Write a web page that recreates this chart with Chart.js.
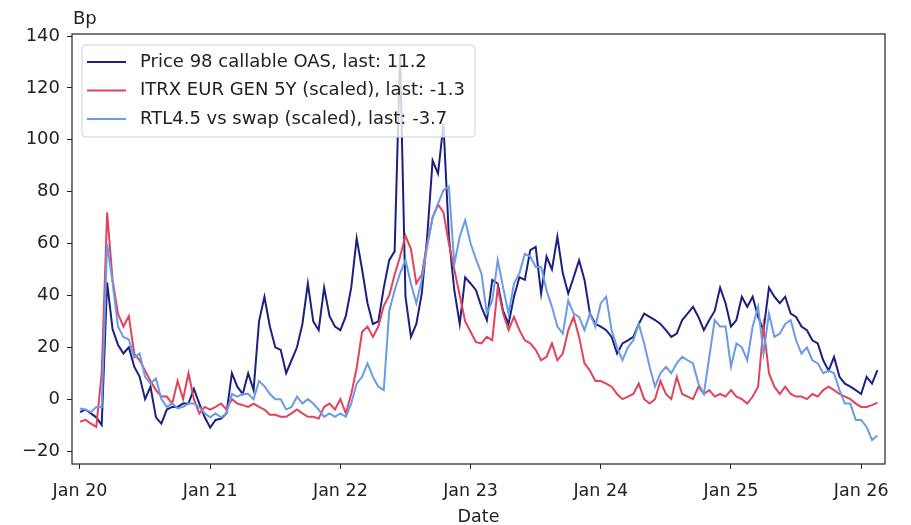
<!DOCTYPE html>
<html lang="en">
<head>
    <meta charset="UTF-8">
    <title>Price 98 callable OAS</title>
    <script src="https://cdn.jsdelivr.net/npm/chart.js"></script>
    <style>
        body {
            margin: 0;
            padding: 0;
            background: #fff;
        }
        .chart-container {
            width: 911px;
            height: 525px;
            position: relative;
        }
    </style>
</head>
<body>
    <div class="chart-container">
        <canvas id="oasChart"></canvas>
    </div>

    <script>
        // half-monthly readings starting Jan 2020
        const startYear = 2020;
        const pointsPerYear = 24;

        const oas = [
            -5, -4, -5.5, -7, -10, 45, 27, 21, 17.6, 20, 12.5, 8.6, 0, 4.8, -7, -9.4, -4, -3, -3, -1.7, -1.7, 4, -1.7, -7,
            -11, -8, -7.5, -5.5, 10, 4.8, 2, 10, 3.5, 30, 39.5, 28, 20, 19, 10, 15, 20, 29, 44.6, 30, 26.6, 43, 32, 28,
            26.6, 32, 43, 62, 50, 37, 29, 30, 43, 53.6, 57, 133, 39.5, 24, 29, 40.7, 62.6, 92, 87, 106, 62.6, 42, 29, 47,
            44.6, 42, 35.6, 30.5, 46, 44.6, 34, 29, 39.5, 47, 46, 57.5, 58.7, 40.7, 55, 50, 62.6, 48.5, 40.7, 47, 53.6, 46, 33, 29,
            28, 26.6, 24, 17.6, 21.5, 22.7, 24, 29, 33, 31.7, 30.5, 29, 26.6, 24, 25.3, 30.5, 33, 35.6, 31.7, 26.6, 30.5, 34, 43, 37,
            28, 30.5, 39.5, 35.6, 39.5, 31.7, 26.6, 43, 39.5, 37, 39.5, 33, 31.7, 28, 26.6, 22.7, 21.5, 15, 11, 16.3, 8.6, 6, 4.8, 3.5,
            2, 8.6, 6, 11.2
        ];
        const itrx = [
            -8.7, -8, -9.4, -10.7, 10, 72, 46, 33, 28, 32, 17.6, 15, 11, 7, 3.5, 1, 1, -1.7, 7, 0, 10, 0, -5.5, -3,
            -4, -3, -1.7, -4, 0, -1.7, -2.3, -3, -1.7, -3, -4, -6, -6, -6.8, -6.8, -5.5, -4, -5.5, -6.8, -6.8, -7.5, -3, -1.7, -4,
            0, -5.5, 2, 12, 26, 28, 24, 28, 36, 40, 48, 55, 63, 58, 44.6, 48, 60, 70, 75, 72, 60, 50, 40, 30,
            26, 22, 21.5, 24, 22.7, 43, 33, 26.6, 31.7, 26.6, 22.7, 21.5, 19, 15, 16.3, 21.5, 15, 17.6, 26.6, 31.7, 24, 13.8, 11, 7,
            7, 6, 4.8, 2, 0, 1, 2, 6, 0, -1.7, 0, 7, 2, 0, 8.6, 2, 1, 0, 4.8, 2, 3.5, 1, 2, 1,
            3.5, 1, 0, -1.7, 1, 4.8, 28, 10, 4.8, 2, 4.8, 2, 1, 1, 0, 2, 1, 3.5, 4.8, 3.5, 2, 1, 0, -1.7,
            -3, -3, -2.3, -1.3
        ];
        const rtl = [
            -3.6, -4, -5, -3, -3, 60, 45, 28, 24, 23, 16, 17.6, 8.6, 6, 8, 0, -3, -1.7, -3.6, -3, -1.7, -1.7, -3, -5.5,
            -7, -5.5, -7, -5.5, 2, 1, 2, 2, 0, 7, 5, 2, 0, 0, -4, -3, 1, -1.7, 0, -1.7, -4, -6.8, -5.5, -6.8,
            -5.5, -6.8, -1.7, 6, 8.6, 13.8, 8.6, 4.8, 3.5, 34, 42, 48.5, 53.6, 44.6, 37, 46, 58.7, 70, 75.4, 80.6, 82, 52, 62.6, 69,
            60, 54, 48.5, 33, 38, 53.6, 43, 33, 44.6, 48.5, 56, 55, 51, 51, 42, 35.6, 28, 25.3, 38, 33, 31.7, 26.6, 33, 28,
            37, 39.5, 26.6, 20, 15, 20, 22.7, 29, 21.5, 12.5, 4.8, 10, 12.5, 10, 13.8, 16.3, 15, 13.8, 6, 2, 16.3, 30.5, 28, 28,
            12.5, 21.5, 20, 15, 28, 35.6, 17.6, 33, 24, 25.3, 29, 30.5, 22.7, 17.6, 20, 15, 13.8, 10, 11, 10, 3.5, -1.7, -1.7, -8,
            -8, -10.7, -15.8, -14
        ];

        const seriesLabels = [
            'Price 98 callable OAS, last: 11.2',
            'ITRX EUR GEN 5Y (scaled), last: -1.3',
            'RTL4.5 vs swap (scaled), last: -3.7'
        ];
        const seriesColors = ['#1c207f', '#e3435a', '#6a9be6'];
        const yearTicks = [2020, 2021, 2022, 2023, 2024, 2025, 2026];
        const valueTicks = [-20, 0, 20, 40, 60, 80, 100, 120, 140];

        const FONT = "'DejaVu Sans', sans-serif";
        const TEXT = '#222';

        const toPoints = arr => arr.map((v, i) => ({ x: startYear + i / pointsPerYear, y: v }));

        // axes frame, "Bp" label and the legend inside the plot
        const framePlugin = {
            id: 'frame',
            afterDatasetsDraw(chart) {
                const { ctx, chartArea: a } = chart;
                ctx.save();
                ctx.strokeStyle = TEXT;
                ctx.lineWidth = 1.2;
                ctx.strokeRect(a.left, a.top, a.right - a.left, a.bottom - a.top);

                ctx.font = '18px ' + FONT;
                ctx.fillStyle = TEXT;
                ctx.textBaseline = 'middle';
                ctx.textAlign = 'left';
                ctx.fillText('Bp', 73, 19);

                // legend box
                const bx = 82, by = 45, bw = 393, bh = 92, r = 4;
                ctx.beginPath();
                ctx.roundRect(bx, by, bw, bh, r);
                ctx.fillStyle = 'rgba(255,255,255,0.8)';
                ctx.fill();
                ctx.strokeStyle = '#d0d0d0';
                ctx.lineWidth = 1;
                ctx.stroke();

                seriesLabels.forEach((label, i) => {
                    const y = 62 + i * 28.5;
                    ctx.beginPath();
                    ctx.moveTo(87, y);
                    ctx.lineTo(126, y);
                    ctx.strokeStyle = seriesColors[i];
                    ctx.lineWidth = 2;
                    ctx.stroke();
                    ctx.fillStyle = TEXT;
                    ctx.fillText(label, 140, y);
                });
                ctx.restore();
            }
        };

        const ctx = document.getElementById('oasChart').getContext('2d');
        new Chart(ctx, {
            type: 'line',
            data: {
                datasets: [oas, itrx, rtl].map((arr, i) => ({
                    label: seriesLabels[i],
                    data: toPoints(arr),
                    borderColor: seriesColors[i],
                    backgroundColor: seriesColors[i],
                    borderWidth: 2,
                    pointRadius: 0,
                    tension: 0,
                    fill: false,
                    order: 3 - i
                }))
            },
            options: {
                responsive: true,
                maintainAspectRatio: false,
                animation: false,
                layout: { padding: { top: 34, right: 26, left: 0, bottom: 0 } },
                plugins: {
                    legend: { display: false },
                    tooltip: { enabled: false }
                },
                scales: {
                    x: {
                        type: 'linear',
                        min: 2019.9386,
                        max: 2026.183,
                        afterBuildTicks: s => { s.ticks = yearTicks.map(v => ({ value: v })); },
                        afterFit: s => { s.height = 61; },
                        grid: { drawOnChartArea: false, drawTicks: true, tickLength: 5, color: TEXT },
                        border: { display: false },
                        ticks: {
                            padding: 12,
                            maxRotation: 0,
                            color: TEXT,
                            font: { family: FONT, size: 17.5 },
                            callback: v => 'Jan ' + String(v).slice(2)
                        },
                        title: {
                            display: true,
                            text: 'Date',
                            color: TEXT,
                            padding: { top: 0, bottom: -3 },
                            font: { family: FONT, size: 17.5 }
                        }
                    },
                    y: {
                        min: -25,
                        max: 140.8,
                        afterBuildTicks: s => { s.ticks = valueTicks.map(v => ({ value: v })); },
                        afterFit: s => { s.width = 72; },
                        grid: { drawOnChartArea: false, drawTicks: true, tickLength: 5, color: TEXT },
                        border: { display: false },
                        ticks: {
                            padding: 7,
                            color: TEXT,
                            font: { family: FONT, size: 18 },
                            callback: v => v < 0 ? '\u2212' + Math.abs(v) : String(v)
                        }
                    }
                }
            },
            plugins: [framePlugin]
        });
    </script>
</body>
</html>
